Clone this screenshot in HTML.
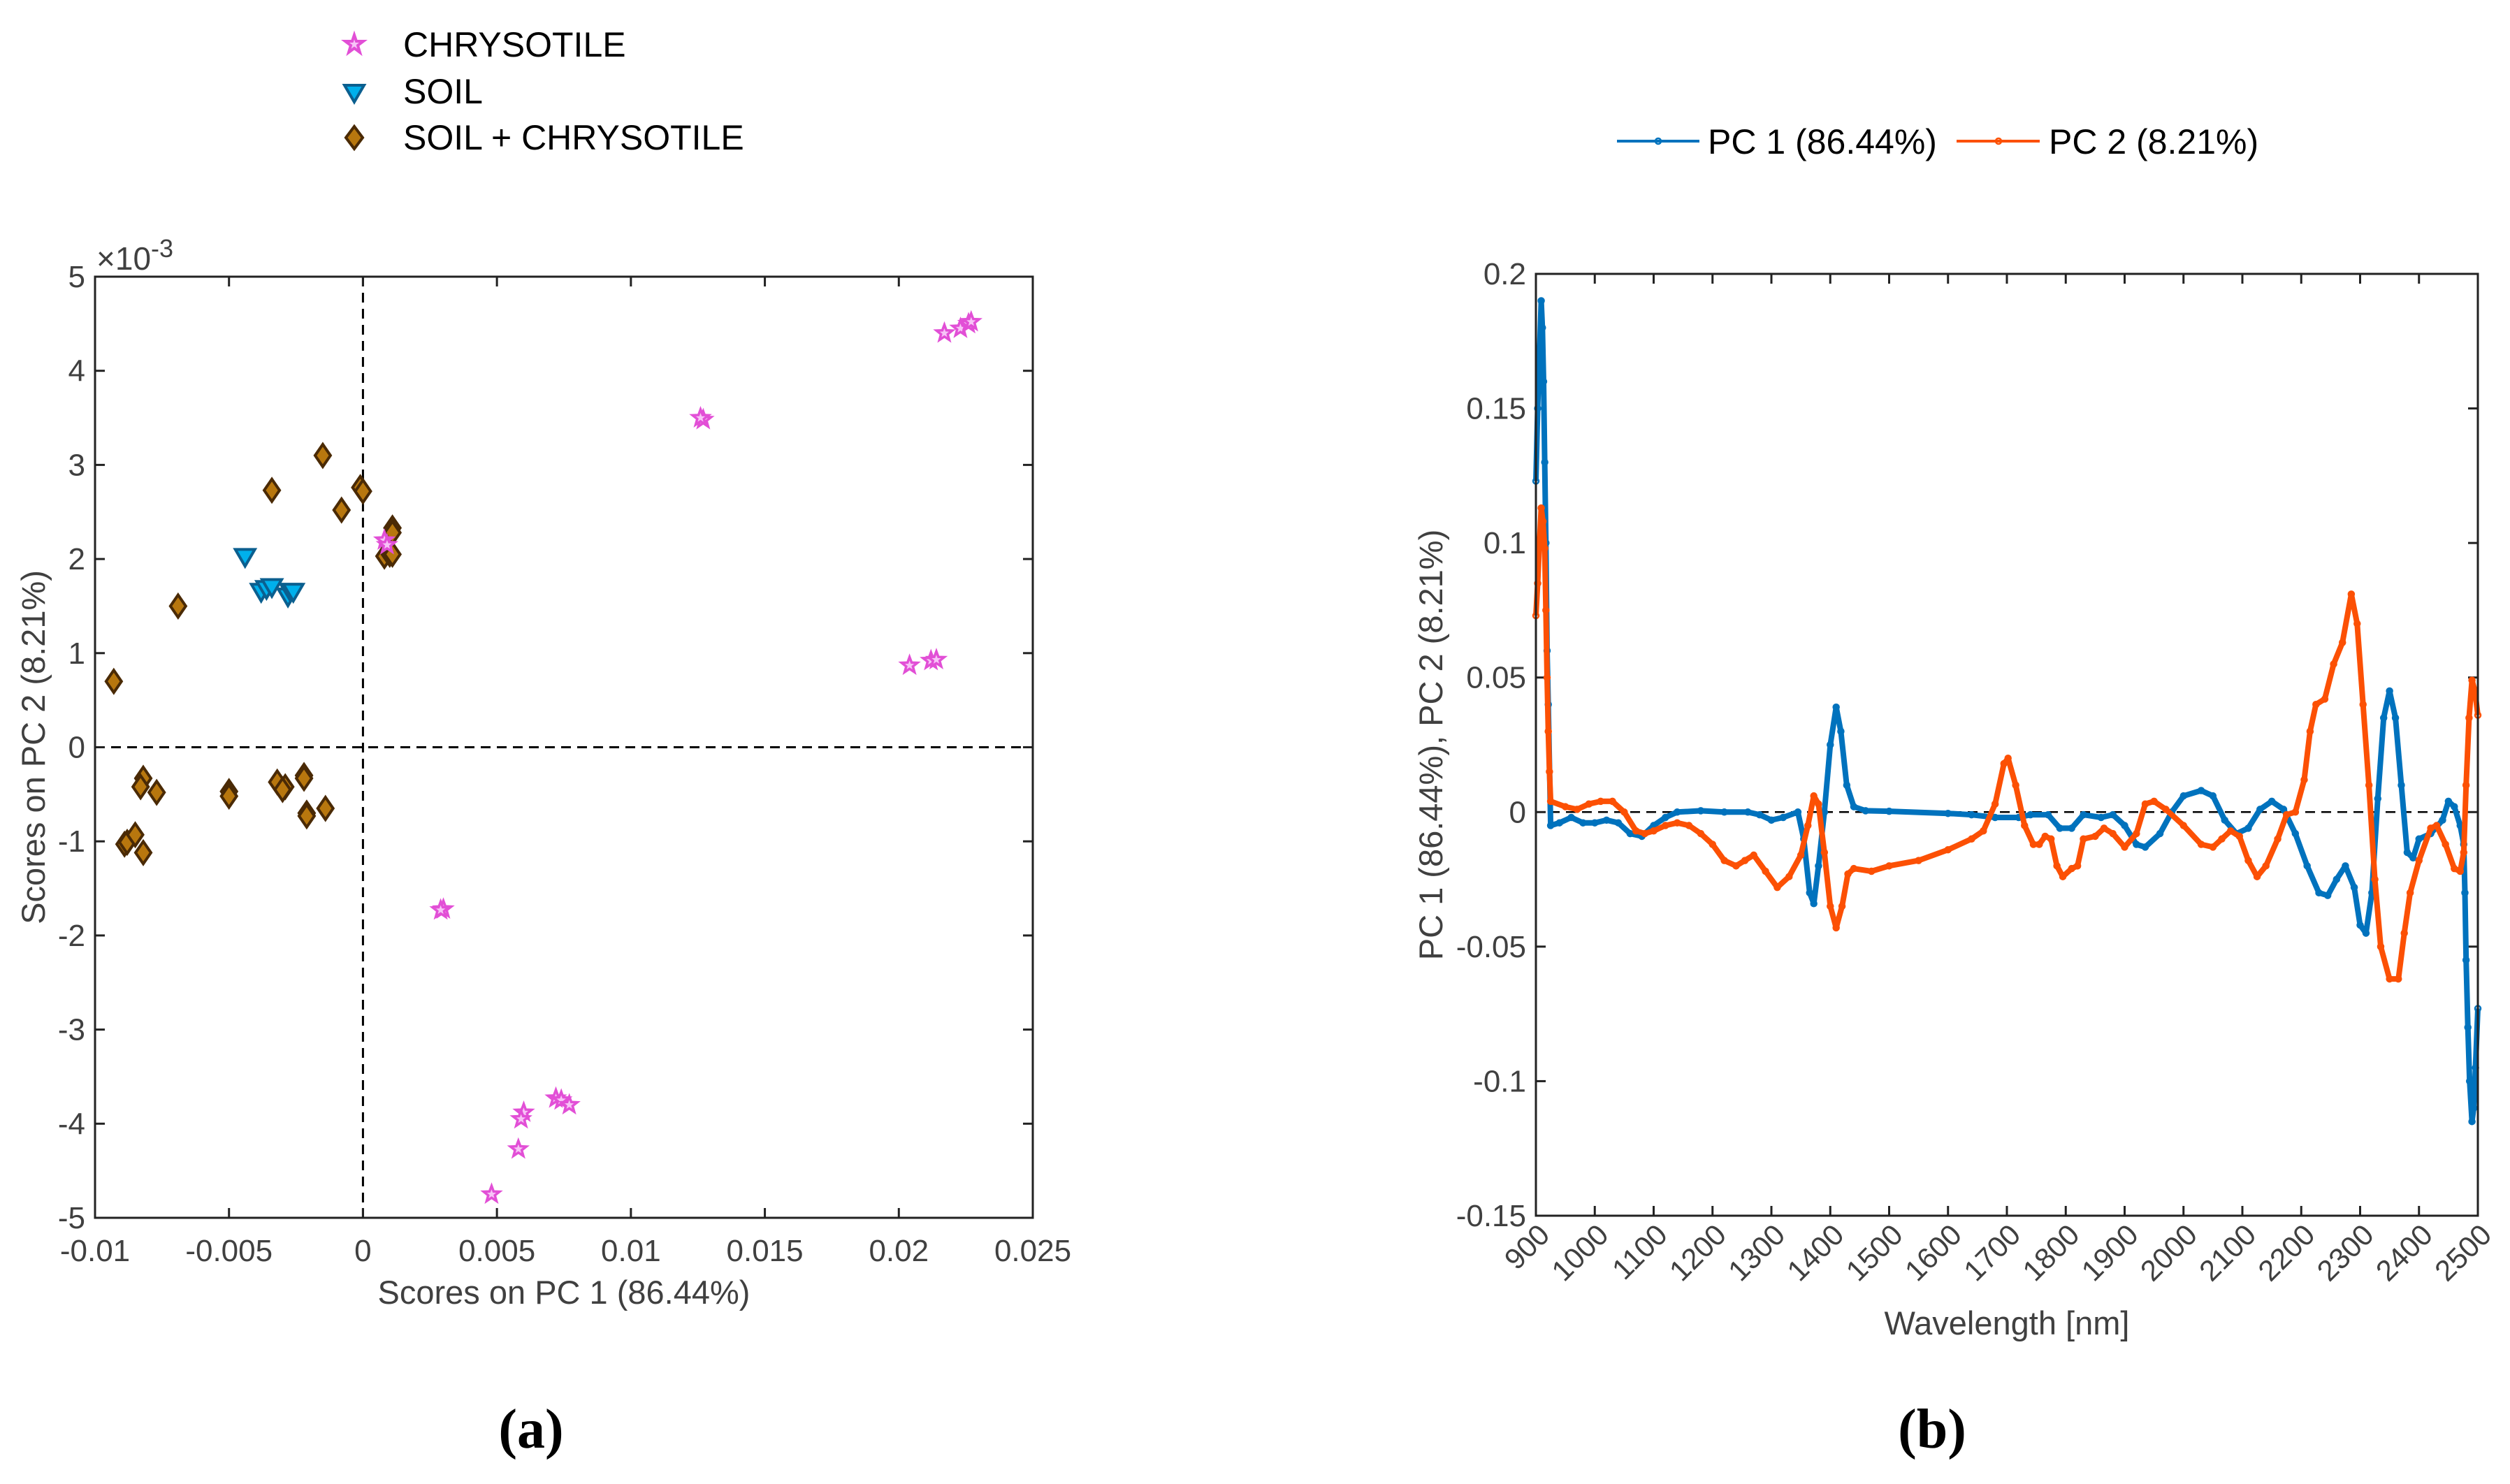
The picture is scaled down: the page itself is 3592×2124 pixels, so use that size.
<!DOCTYPE html>
<html><head><meta charset="utf-8"><style>
html,body{margin:0;padding:0;background:#fff}
svg{display:block}
text{font-family:"Liberation Sans",sans-serif}
</style></head><body>
<svg id="fig" width="3592" height="2124" viewBox="0 0 3592 2124" xmlns="http://www.w3.org/2000/svg">
<g>
 <g>
  <polygon points="507,50 510,59 520,59 512,65 515,75 507,69 499,75 502,65 494,59 504,59" fill="#f7c4f7" stroke="#e24fd6" stroke-width="4"/>
  <text x="577" y="81" font-size="50" fill="#000">CHRYSOTILE</text></g>
 <g>
  <polygon points="493,122 521,122 507,146" fill="#00b0ec" stroke="#0b5f8f" stroke-width="4"/>
  <text x="577" y="148" font-size="50" fill="#000">SOIL</text></g>
 <g>
  <polygon points="507,181 519,197 507,213 495,197" fill="#b8770e" stroke="#4a2a05" stroke-width="4"/>
  <text x="577" y="214" font-size="50" fill="#000">SOIL + CHRYSOTILE</text></g>
</g>
<g>
 <g>
  <line x1="2314" y1="202" x2="2432" y2="202" stroke="#0072bd" stroke-width="4"/>
  <circle cx="2373" cy="202" r="4" fill="none" stroke="#0072bd" stroke-width="2.5"/>
  <text x="2444" y="220" font-size="50" fill="#000">PC 1 (86.44%)</text></g>
 <g>
  <line x1="2800" y1="202" x2="2919" y2="202" stroke="#fc5004" stroke-width="4"/>
  <circle cx="2860" cy="202" r="4" fill="none" stroke="#fc5004" stroke-width="2.5"/>
  <text x="2932" y="220" font-size="50" fill="#000">PC 2 (8.21%)</text></g>
</g>
<g id="chartA"></g>
<g id="chartB"></g>
<text x="760" y="2072" font-size="80" font-weight="bold" text-anchor="middle" style="font-family:'Liberation Serif',serif">(a)</text>
<text x="2765" y="2072" font-size="80" font-weight="bold" text-anchor="middle" style="font-family:'Liberation Serif',serif">(b)</text>
</svg>
<script>
// ---- Chart A data ----
const chrysX=[0.0008,0.0009,0.0127,0.0126,0.0217,0.0223,0.0226,0.0227,0.0204,0.0212,0.0214,0.0030,0.0029,0.0060,0.0059,0.0072,0.0074,0.0077,0.0058,0.0048];
const chrysY=[2.2,2.15,3.48,3.5,4.4,4.45,4.5,4.52,0.87,0.92,0.93,-1.72,-1.73,-3.88,-3.95,-3.73,-3.75,-3.8,-4.27,-4.75];
const soilX=[-0.0044,-0.0038,-0.0036,-0.0034,-0.0028,-0.0027,-0.0026];
const soilY=[2.02,1.65,1.68,1.7,1.6,1.65,1.65];
const mixX=[-0.0015,-0.0034,-0.0001,0,-0.0008,0.0011,0.0011,0.0008,0.001,0.0011,-0.0069,-0.0093,-0.0082,-0.0083,-0.0077,-0.005,-0.005,-0.0032,-0.0029,-0.003,-0.0022,-0.0022,-0.0021,-0.0021,-0.0014,-0.0089,-0.0088,-0.0085,-0.0082];
const mixY=[3.1,2.73,2.76,2.72,2.52,2.33,2.28,2.03,2.05,2.05,1.5,0.7,-0.33,-0.42,-0.48,-0.47,-0.52,-0.37,-0.42,-0.45,-0.3,-0.33,-0.7,-0.73,-0.65,-1.03,-1.01,-0.93,-1.12];
const aXTicks=[-0.01,-0.005,0,0.005,0.01,0.015,0.02,0.025];
const aXLabels=["-0.01","-0.005","0","0.005","0.01","0.015","0.02","0.025"];
const aYTicks=[-5,-4,-3,-2,-1,0,1,2,3,4,5];
// ---- Chart B data ----
const pc1W=[900,903,906,909,911,913,915,917,919,921,925,940,960,980,1000,1020,1040,1060,1080,1100,1120,1140,1180,1220,1260,1280,1300,1320,1345,1355,1365,1372,1380,1390,1400,1410,1418,1428,1440,1460,1500,1600,1640,1680,1720,1740,1770,1790,1810,1830,1860,1880,1900,1920,1935,1960,1980,2000,2030,2050,2070,2090,2110,2130,2150,2170,2190,2210,2230,2245,2260,2275,2290,2300,2310,2320,2330,2340,2350,2360,2370,2380,2390,2400,2420,2440,2450,2460,2470,2476,2478,2480,2483,2486,2490,2493,2496,2500];
const pc1V=[0.123,0.15,0.17,0.19,0.18,0.16,0.13,0.1,0.06,0.04,-0.005,-0.004,-0.002,-0.004,-0.004,-0.003,-0.004,-0.008,-0.009,-0.005,-0.002,0,0.0005,0,0,-0.001,-0.003,-0.002,0,-0.01,-0.03,-0.034,-0.02,0,0.025,0.039,0.03,0.01,0.002,0.0005,0.0003,-0.0005,-0.001,-0.002,-0.002,-0.001,-0.001,-0.006,-0.006,-0.001,-0.002,-0.001,-0.005,-0.012,-0.013,-0.008,0,0.006,0.008,0.006,-0.003,-0.008,-0.006,0.001,0.004,0.001,-0.008,-0.02,-0.03,-0.031,-0.025,-0.02,-0.028,-0.042,-0.045,-0.03,0.005,0.035,0.045,0.035,0.01,-0.015,-0.017,-0.01,-0.008,-0.003,0.004,0.002,-0.005,-0.012,-0.03,-0.055,-0.08,-0.1,-0.115,-0.11,-0.095,-0.073];
const pc2W=[900,903,906,909,912,915,917,919,921,923,925,950,970,990,1010,1030,1050,1070,1085,1100,1120,1140,1160,1180,1200,1220,1240,1255,1270,1290,1310,1330,1350,1362,1372,1380,1390,1400,1410,1420,1430,1440,1470,1500,1550,1600,1640,1660,1680,1695,1702,1715,1730,1745,1755,1765,1775,1785,1795,1810,1820,1830,1850,1865,1880,1900,1920,1935,1950,1970,2000,2030,2050,2065,2080,2095,2110,2125,2140,2160,2175,2190,2205,2215,2225,2240,2255,2270,2285,2295,2305,2315,2325,2335,2350,2365,2375,2385,2400,2420,2430,2445,2460,2470,2476,2480,2485,2490,2495,2500];
const pc2V=[0.073,0.085,0.1,0.113,0.108,0.098,0.075,0.05,0.03,0.015,0.004,0.002,0.001,0.003,0.004,0.004,0,-0.007,-0.008,-0.007,-0.005,-0.004,-0.005,-0.008,-0.012,-0.018,-0.02,-0.018,-0.016,-0.022,-0.028,-0.024,-0.016,-0.005,0.006,0.003,-0.015,-0.035,-0.043,-0.035,-0.023,-0.021,-0.022,-0.02,-0.018,-0.014,-0.01,-0.007,0.003,0.018,0.02,0.01,-0.005,-0.012,-0.012,-0.009,-0.01,-0.02,-0.024,-0.021,-0.02,-0.01,-0.009,-0.006,-0.008,-0.013,-0.008,0.003,0.004,0.001,-0.005,-0.012,-0.013,-0.01,-0.007,-0.009,-0.018,-0.024,-0.02,-0.01,-0.001,0,0.012,0.03,0.04,0.042,0.055,0.063,0.081,0.07,0.04,0.01,-0.025,-0.05,-0.062,-0.062,-0.045,-0.03,-0.018,-0.006,-0.005,-0.012,-0.021,-0.022,-0.015,0.01,0.035,0.049,0.045,0.036];
const bXTicks=[900,1000,1100,1200,1300,1400,1500,1600,1700,1800,1900,2000,2100,2200,2300,2400,2500];
const bYTicks=[-0.15,-0.1,-0.05,0,0.05,0.1,0.15,0.2];
const bYLabels=["-0.15","-0.1","-0.05","0","0.05","0.1","0.15","0.2"];

const NS="http://www.w3.org/2000/svg";
function mk(tag,attrs,parent){const e=document.createElementNS(NS,tag);for(const k in attrs)e.setAttribute(k,attrs[k]);parent.appendChild(e);return e;}
const TXT="#404040";

// ---- Chart A ----
(function(){
const g=document.getElementById('chartA');
const L=136,R=1478,T=396,B=1743;
const xs=v=>L+(v+0.01)/0.035*(R-L);
const ys=v=>B-(v+5)/10*(B-T);
let e=mk('line',{x1:xs(0),y1:T,x2:xs(0),y2:B,stroke:'#000','stroke-width':3,'stroke-dasharray':'14,9'},g);


e=mk('line',{x1:L,y1:ys(0),x2:R,y2:ys(0),stroke:'#000','stroke-width':3,'stroke-dasharray':'14,9'},g);


aXTicks.forEach((t,i)=>{const x=xs(t);
 mk('line',{x1:x,y1:B,x2:x,y2:B-14,stroke:'#222','stroke-width':3},g);
 mk('line',{x1:x,y1:T,x2:x,y2:T+14,stroke:'#222','stroke-width':3},g);
 const tx=mk('text',{x:x,y:B+62,'font-size':44,fill:TXT,'text-anchor':'middle'},g);tx.textContent=aXLabels[i];
 
 });
aYTicks.forEach(t=>{const y=ys(t);
 mk('line',{x1:L,y1:y,x2:L+14,y2:y,stroke:'#222','stroke-width':3},g);
 mk('line',{x1:R,y1:y,x2:R-14,y2:y,stroke:'#222','stroke-width':3},g);
 const tx=mk('text',{x:L-14,y:y+15,'font-size':44,fill:TXT,'text-anchor':'end'},g);tx.textContent=String(t);
 
 });
e=mk('rect',{x:L,y:T,width:R-L,height:B-T,fill:'none',stroke:'#222','stroke-width':3},g);


e=mk('text',{x:138,y:386,'font-size':46,fill:TXT},g);e.innerHTML='×10<tspan dy="-18" font-size="36">-3</tspan>';


e=mk('text',{x:(L+R)/2,y:1866,'font-size':47,fill:TXT,'text-anchor':'middle'},g);e.textContent='Scores on PC 1 (86.44%)';


e=mk('text',{x:0,y:0,'font-size':47,fill:TXT,'text-anchor':'middle',transform:`translate(64,${(T+B)/2}) rotate(-90)`},g);e.textContent='Scores on PC 2 (8.21%)';


mixX.forEach((v,i)=>{const x=xs(v),y=ys(mixY[i]);
 const p=mk('polygon',{points:`${x},${y-16} ${x+11},${y} ${x},${y+16} ${x-11},${y}`,fill:'#b8770e',stroke:'#4a2a05','stroke-width':4},g);
 
 });
soilX.forEach((v,i)=>{const x=xs(v),y=ys(soilY[i]);
 const p=mk('polygon',{points:`${x-14},${y-11} ${x+14},${y-11} ${x},${y+13}`,fill:'#00b0ec',stroke:'#0b5f8f','stroke-width':4},g);
 
 });
chrysX.forEach((v,i)=>{const x=xs(v),y=ys(chrysY[i]);let pts=[];
 for(let k=0;k<10;k++){const r=k%2?5:12,a=-Math.PI/2+k*Math.PI/5;pts.push((x+r*Math.cos(a)).toFixed(1)+','+(y+r*Math.sin(a)).toFixed(1));}
 const p=mk('polygon',{points:pts.join(' '),fill:'#f7c4f7',stroke:'#e24fd6','stroke-width':3.5},g);
 
 });
})();

// ---- Chart B ----
(function(){
const g=document.getElementById('chartB');
const L=2198,R=3546,T=392,B=1740;
const xs=v=>L+(v-900)/1600*(R-L);
const ys=v=>B-(v+0.15)/0.35*(B-T);
let e=mk('line',{x1:L+20,y1:ys(0),x2:R,y2:ys(0),stroke:'#000','stroke-width':2.5,'stroke-dasharray':'14,9'},g);


bXTicks.forEach(t=>{const x=xs(t);
 mk('line',{x1:x,y1:B,x2:x,y2:B-14,stroke:'#222','stroke-width':3},g);
 mk('line',{x1:x,y1:T,x2:x,y2:T+14,stroke:'#222','stroke-width':3},g);
 const tx=mk('text',{x:0,y:0,'font-size':42,fill:TXT,'text-anchor':'end',transform:`translate(${x+22},${B+30}) rotate(-45)`},g);tx.textContent=String(t);
 
 });
bYTicks.forEach((t,i)=>{const y=ys(t);
 mk('line',{x1:L,y1:y,x2:L+14,y2:y,stroke:'#222','stroke-width':3},g);
 mk('line',{x1:R,y1:y,x2:R-14,y2:y,stroke:'#222','stroke-width':3},g);
 const tx=mk('text',{x:L-14,y:y+15,'font-size':44,fill:TXT,'text-anchor':'end'},g);tx.textContent=bYLabels[i];
 
 });
function series(W,V,col,name){
 const pts=W.map((w,i)=>xs(w).toFixed(1)+','+ys(V[i]).toFixed(1)).join(' ');
 const pl=mk('polyline',{points:pts,fill:'none',stroke:col,'stroke-width':8,'stroke-linejoin':'round'},g);
 
 
 W.forEach((w,i)=>{const c=mk('circle',{cx:xs(w),cy:ys(V[i]),r:4,fill:'none',stroke:col,'stroke-width':2.5},g);
  
  });
}
series(pc1W,pc1V,'#0072bd','pc1-line');
series(pc2W,pc2V,'#fc5004','pc2-line');
e=mk('rect',{x:L,y:T,width:R-L,height:B-T,fill:'none',stroke:'#222','stroke-width':3},g);


e=mk('text',{x:(L+R)/2,y:1910,'font-size':47,fill:TXT,'text-anchor':'middle'},g);e.textContent='Wavelength [nm]';


e=mk('text',{x:0,y:0,'font-size':47,fill:TXT,'text-anchor':'middle',transform:`translate(2064,${(T+B)/2}) rotate(-90)`},g);e.textContent='PC 1 (86.44%), PC 2 (8.21%)';


})();
</script>
</body></html>
